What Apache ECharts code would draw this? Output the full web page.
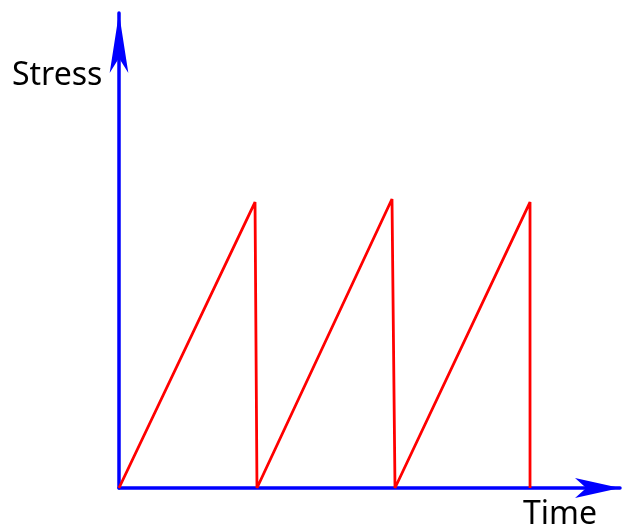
<!DOCTYPE html>
<html>
<head>
<meta charset="utf-8">
<script src="https://cdn.jsdelivr.net/npm/echarts@6/dist/echarts.min.js"></script>
<style>
  html, body { margin: 0; padding: 0; background: #fff; }
  #stressChart { width: 622px; height: 531px; }
</style>
</head>
<body>
<div id="stressChart"></div>
<script>
// sawtooth points: time and stress
var timeValues = [0, 27.15, 27.54, 54.49, 55.09, 82.04, 82.04];
var stressValues = [0, 60.2, 0, 60.84, 0, 60.2, 0];
var axisNames = ['Time', 'Stress'];

var myChart = echarts.init(document.getElementById('stressChart'));
var points = timeValues.map(function (t, i) { return [t, stressValues[i]]; });

option = {
    animation: false,
    grid: { left: 119, right: 2, top: 13, bottom: 43 },
    xAxis: {
        type: 'value',
        min: 0,
        max: 100,
        axisLine: {
            lineStyle: { color: '#0000ff', width: 3.5 },
            symbol: ['none', 'arrow'],
            symbolSize: [15, 45]
        },
        axisTick: { show: false },
        axisLabel: { show: false },
        splitLine: { show: false }
    },
    yAxis: {
        type: 'value',
        min: 0,
        max: 100,
        axisLine: {
            show: true,
            lineStyle: { color: '#0000ff', width: 3.5 },
            symbol: ['none', 'arrow'],
            symbolSize: [14, 60]
        },
        axisTick: { show: false },
        axisLabel: { show: false },
        splitLine: { show: false }
    },
    graphic: [
        {
            type: 'text', left: 12, top: 60,
            style: { text: axisNames[1], font: '32px "Noto Sans"', fill: '#000' }
        },
        {
            type: 'text', left: 523, top: 499,
            style: { text: axisNames[0], font: '32px "Noto Sans"', fill: '#000' }
        }
    ],
    series: [
        {
            type: 'line',
            data: points,
            showSymbol: false,
            lineStyle: { color: '#ff0000', width: 2.8 },
            z: 1
        }
    ]
};
myChart.setOption(option);
</script>
</body>
</html>
